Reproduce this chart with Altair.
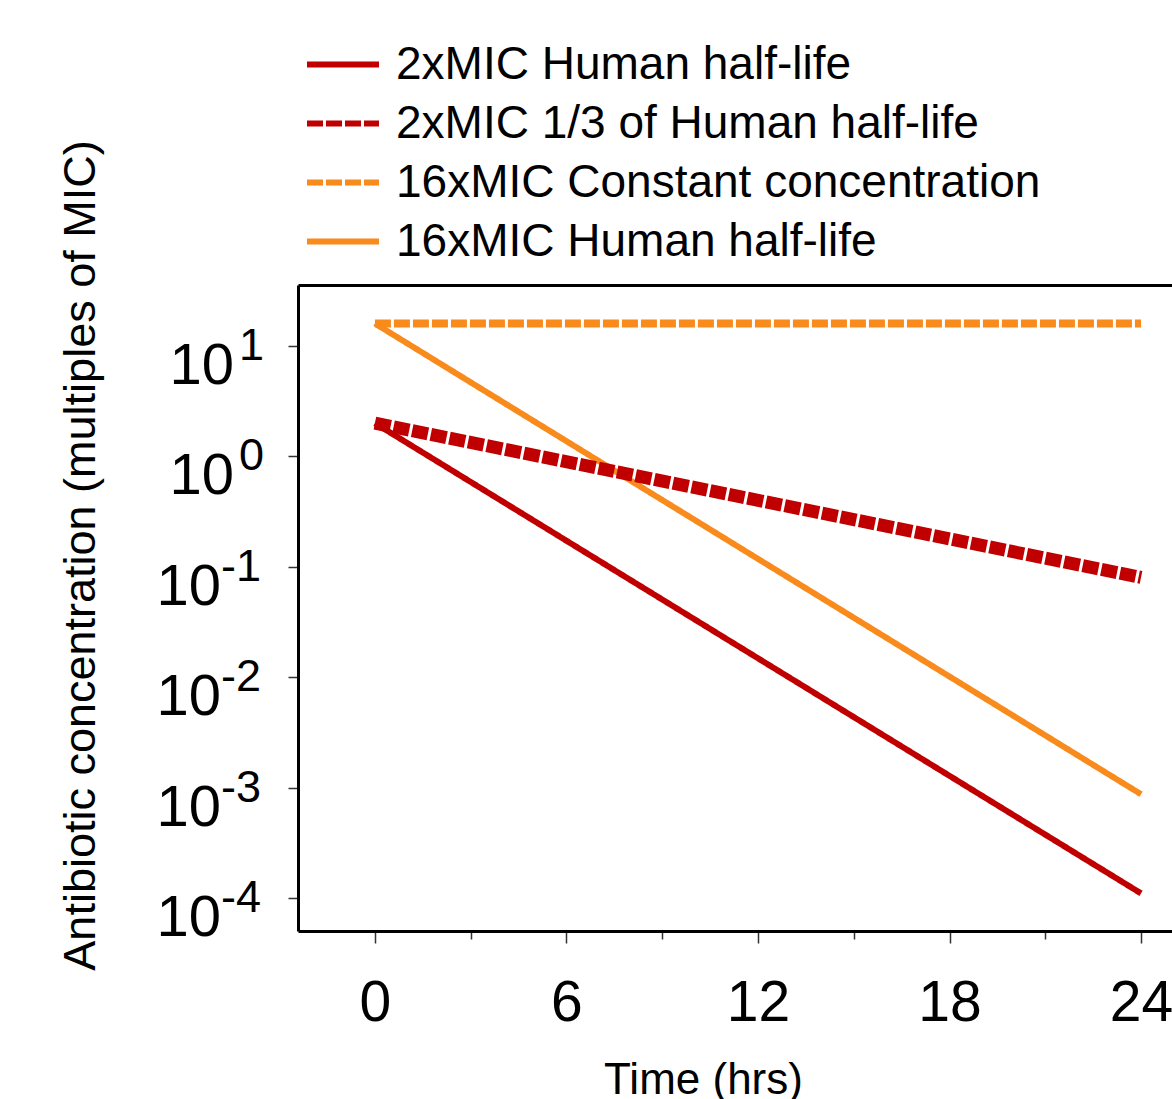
import altair as alt
import pandas as pd

# ---- data ----
series_names = [
    "2xMIC Human half-life",
    "2xMIC 1/3 of Human half-life",
    "16xMIC Constant concentration",
    "16xMIC Human half-life",
]
series_colors = ["#C00000", "#C00000", "#F98A1C", "#F98A1C"]
series_dashes = [[1, 0], [16, 3], [16, 3], [1, 0]]
series_widths = [6, 13, 8, 6]

times = [0, 24]
conc_2x_human = [2.0, 1.1e-4]
conc_2x_third = [2.0, 0.08]
conc_16x_const = [16.0, 16.0]
conc_16x_human = [16.0, 8.7e-4]

y_tick_values = [10, 1, 0.1, 0.01, 0.001, 0.0001]
y_tick_exponents = ["1", "0", "-1", "-2", "-3", "-4"]
x_tick_values = [0, 3, 6, 9, 12, 15, 18, 21, 24]

series_values = {
    series_names[0]: conc_2x_human,
    series_names[1]: conc_2x_third,
    series_names[2]: conc_16x_const,
    series_names[3]: conc_16x_human,
}
rows = []
for name in series_names:
    for t, v in zip(times, series_values[name]):
        rows.append({"series": name, "t": t, "c": v})
df = pd.DataFrame(rows)

ylab = pd.DataFrame({"v": y_tick_values, "base": ["10"] * len(y_tick_values), "exp": y_tick_exponents})

FONT = "Liberation Sans, Arial, Helvetica, sans-serif"

xscale = alt.Scale(domain=[-2.41, 24.97], nice=False, zero=False)
yscale = alt.Scale(type="log", domain=[5.02e-5, 35.7], nice=False)

legend = alt.Legend(
    title=None,
    orient="none",
    legendX=6,
    legendY=-250,
    symbolType="stroke",
    symbolSize=5184,
    symbolStrokeWidth=6,
    labelFontSize=46,
    labelFont=FONT,
    labelColor="black",
    labelOffset=14,
    labelLimit=1200,
    clipHeight=59,
    rowPadding=0,
    padding=0,
)

x_axis = alt.Axis(
    values=x_tick_values,
    labelExpr="datum.value % 6 == 0 ? datum.label : ''",
    tickSize={"condition": {"test": "datum.value % 6 == 0", "value": 12}, "value": 8},
    tickColor="#333333",
    tickWidth=1.5,
    domainColor="black",
    domainWidth=3,
    labelFont=FONT,
    labelFontSize=57,
    labelColor="black",
    labelPadding=32,
    labelFlush=False,
    grid=False,
    title="Time (hrs)",
    titleFont=FONT,
    titleFontSize=44,
    titleFontWeight="normal",
    titleColor="black",
    titleX=405,
    titleY=162,
    titleAlign="center",
    titleBaseline="alphabetic",
)

y_axis = alt.Axis(
    values=y_tick_values,
    labels=False,
    tickSize=10,
    tickColor="#333333",
    tickWidth=1.5,
    domainColor="black",
    domainWidth=3,
    grid=False,
    title="Antibiotic concentration (multiples of MIC)",
    titleFont=FONT,
    titleFontSize=45,
    titleFontWeight="normal",
    titleColor="black",
    titleAngle=270,
    titleX=-218,
    titleY=270,
    titleAlign="center",
    titleBaseline="middle",
)

color = alt.Color("series:N", scale=alt.Scale(domain=series_names, range=series_colors), legend=legend)
dash = alt.StrokeDash("series:N", scale=alt.Scale(domain=series_names, range=series_dashes), legend=legend)

# draw orange first, red on top; only the first layer carries the bottom x axis
draw_order = [3, 2, 0, 1]
line_layers = []
for k, i in enumerate(draw_order):
    name = series_names[i]
    layer = (
        alt.Chart(df)
        .transform_filter(alt.datum.series == name)
        .mark_line(strokeCap="butt", clip=True, strokeWidth=series_widths[i])
        .encode(
            x=alt.X("t:Q", scale=xscale, axis=x_axis if k == 0 else None),
            y=alt.Y("c:Q", scale=yscale, axis=y_axis),
            color=color,
            strokeDash=dash,
        )
    )
    line_layers.append(layer)

top_frame = alt.Chart(df).mark_point(opacity=0, size=0).encode(
    x=alt.X(
        "t:Q",
        scale=xscale,
        axis=alt.Axis(orient="top", labels=False, ticks=False, title=None, grid=False,
                      domainColor="black", domainWidth=3),
    )
)

pos = "datum.v >= 1"
neg = "datum.v < 1"

base_pos = alt.Chart(ylab).transform_filter(pos).mark_text(
    align="right", baseline="alphabetic", dy=38, fontSize=58, font=FONT, color="black"
).encode(x=alt.value(-64), y=alt.Y("v:Q", scale=yscale, axis=y_axis), text="base:N")
exp_pos = alt.Chart(ylab).transform_filter(pos).mark_text(
    align="left", baseline="alphabetic", dy=14, fontSize=45, font=FONT, color="black"
).encode(x=alt.value(-59), y=alt.Y("v:Q", scale=yscale, axis=y_axis), text="exp:N")
base_neg = alt.Chart(ylab).transform_filter(neg).mark_text(
    align="right", baseline="alphabetic", dy=38, fontSize=58, font=FONT, color="black"
).encode(x=alt.value(-77), y=alt.Y("v:Q", scale=yscale, axis=y_axis), text="base:N")
exp_neg = alt.Chart(ylab).transform_filter(neg).mark_text(
    align="left", baseline="alphabetic", dy=14, fontSize=45, font=FONT, color="black"
).encode(x=alt.value(-77), y=alt.Y("v:Q", scale=yscale, axis=y_axis), text="exp:N")

chart = (
    alt.layer(*line_layers, top_frame, base_pos, exp_pos, base_neg, exp_neg)
    .resolve_axis(x="independent")
    .properties(
        width=874,
        height=646,
        padding={"left": 298, "top": 285, "right": 0, "bottom": 168},
        autosize=alt.AutoSizeParams(type="none"),
    )
    .configure_view(stroke=None)
    .configure(background="white")
)

chart.save("out.html", embed_options={"renderer": "svg", "actions": False})
